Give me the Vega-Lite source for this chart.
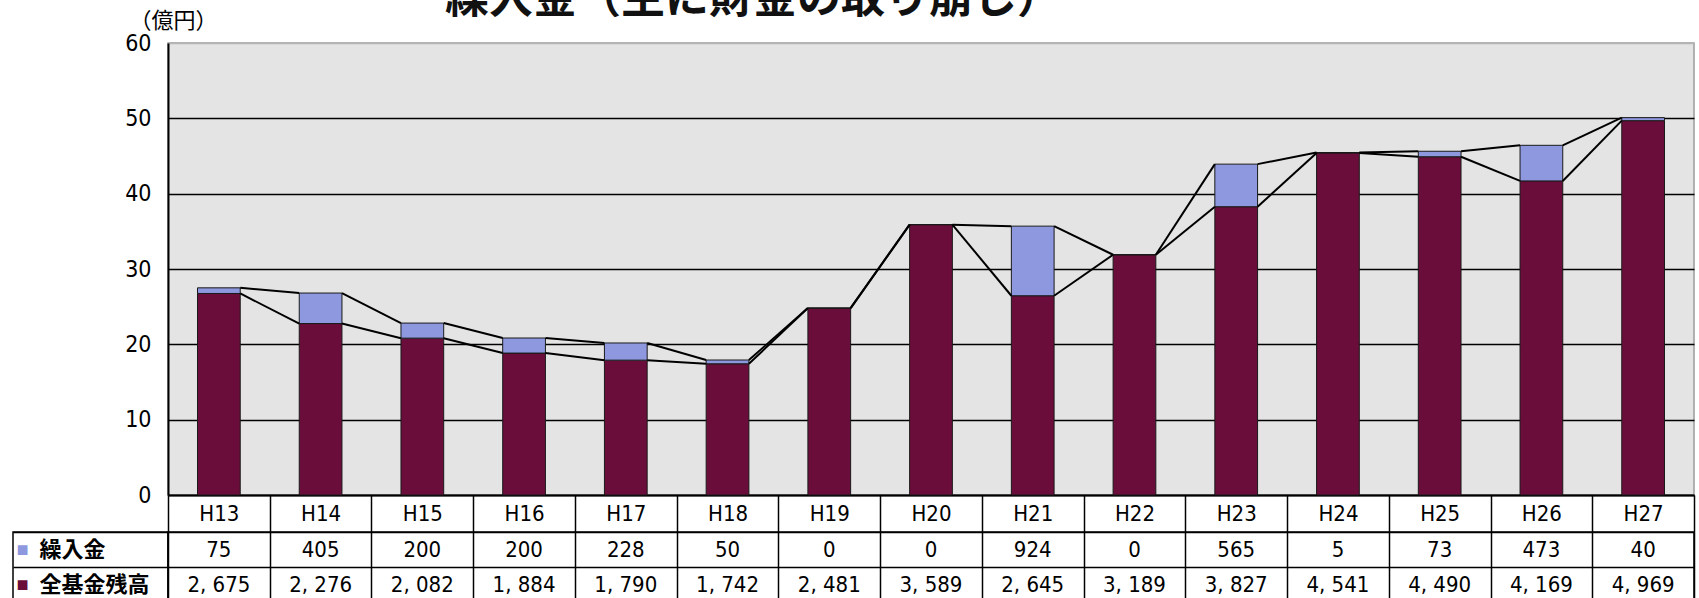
{
  "$schema": "https://vega.github.io/schema/vega-lite/v6.json",
  "padding": {"left": 12, "top": -22, "right": 4, "bottom": 0},
  "background": "white",
  "config": {
    "locale": {"number": {"decimal": ".", "thousands": ", ", "grouping": [3], "currency": ["", ""]}},
    "axis": {"labelFont": "Liberation Sans Narrow, DejaVu Sans Condensed, sans-serif", "labelColor": "black"}
  },
  "title": {"text": "繰入金（主に財金の取り崩し）", "font": "Noto Sans CJK JP", "fontSize": 44, "fontWeight": "bold", "anchor": "start", "frame": "group", "dx": 432, "dy": 8, "offset": -6, "color": "#111111"},
  "datasets": {
    "main": [
      {"年度": "H13", "繰入金": 75, "全基金残高": 2675},
      {"年度": "H14", "繰入金": 405, "全基金残高": 2276},
      {"年度": "H15", "繰入金": 200, "全基金残高": 2082},
      {"年度": "H16", "繰入金": 200, "全基金残高": 1884},
      {"年度": "H17", "繰入金": 228, "全基金残高": 1790},
      {"年度": "H18", "繰入金": 50, "全基金残高": 1742},
      {"年度": "H19", "繰入金": 0, "全基金残高": 2481},
      {"年度": "H20", "繰入金": 0, "全基金残高": 3589},
      {"年度": "H21", "繰入金": 924, "全基金残高": 2645},
      {"年度": "H22", "繰入金": 0, "全基金残高": 3189},
      {"年度": "H23", "繰入金": 565, "全基金残高": 3827},
      {"年度": "H24", "繰入金": 5, "全基金残高": 4541},
      {"年度": "H25", "繰入金": 73, "全基金残高": 4490},
      {"年度": "H26", "繰入金": 473, "全基金残高": 4169},
      {"年度": "H27", "繰入金": 40, "全基金残高": 4969}
    ]
  },
  "columns": 2,
  "spacing": {"row": 37, "column": 0},
  "bounds": "flush",
  "concat": [
    {
      "width": 155, "height": 452,
      "data": {"values": []},
      "mark": "point",
      "view": {"stroke": null}
    },
    {
      "width": 1526, "height": 452,
      "data": {"name": "main"},
      "view": {"fill": "#e4e4e4", "stroke": "#9a9a9a", "strokeWidth": 1.5},
      "transform": [
        {"fold": ["全基金残高", "繰入金"], "as": ["系列", "値"]},
        {"stack": "値", "groupby": ["年度"], "sort": [{"field": "系列", "order": "ascending"}], "as": ["v0", "v1"]}
      ],
      "layer": [
        {
          "mark": {"type": "bar", "width": {"band": 0.42}, "stroke": "#1a1a1a", "strokeWidth": 1},
          "encoding": {
            "x": {
              "field": "年度", "type": "nominal",
              "scale": {"paddingInner": 0, "paddingOuter": 0},
              "axis": {"title": null, "labelAngle": 0, "labelFontSize": 22, "tickBand": "extent", "tickSize": 37, "tickColor": "black", "tickWidth": 1.5, "domainColor": "black", "domainWidth": 2, "labelBaseline": "middle", "labelPadding": -19}
            },
            "y": {
              "field": "v0", "type": "quantitative",
              "scale": {"domain": [0, 6000], "nice": false},
              "axis": {
                "title": "（億円）", "titleAngle": 0, "titleFont": "Noto Sans CJK JP", "titleFontSize": 22, "titleFontWeight": "normal", "titleAlign": "center", "titleBaseline": "middle", "titleX": 5, "titleY": -23, "titleColor": "black",
                "values": [0, 1000, 2000, 3000, 4000, 5000, 6000],
                "labelExpr": "'' + (datum.value / 100)",
                "labelFontSize": 23, "labelPadding": 17, "ticks": false,
                "domainColor": "black", "domainWidth": 2,
                "grid": true,
                "gridColor": {"condition": {"test": "datum.value == 6000", "value": "#b5b5b5"}, "value": "black"},
                "gridWidth": 1.5
              }
            },
            "y2": {"field": "v1"},
            "color": {"field": "系列", "type": "nominal", "scale": {"domain": ["全基金残高", "繰入金"], "range": ["#6b0d3b", "#8d98df"]}, "legend": null}
          }
        },
        {
          "transform": [
            {"window": [{"op": "lead", "field": "v1", "as": "nv1"}, {"op": "lead", "field": "年度", "as": "nextYear"}], "groupby": ["系列"], "sort": [{"field": "年度", "order": "ascending"}]},
            {"filter": "datum.nextYear != null"}
          ],
          "mark": {"type": "rule", "color": "black", "strokeWidth": 2},
          "encoding": {
            "x": {"field": "年度", "type": "nominal", "bandPosition": 0.71},
            "x2": {"field": "nextYear", "bandPosition": 0.29},
            "y": {"field": "v1", "type": "quantitative"},
            "y2": {"field": "nv1"}
          }
        }
      ]
    },
    {
      "width": 155, "height": 70,
      "data": {"values": [{"系列": "繰入金"}, {"系列": "全基金残高"}]},
      "view": {"stroke": "black", "strokeWidth": 1.5, "fill": "white"},
      "encoding": {
        "y": {"field": "系列", "type": "nominal", "sort": ["繰入金", "全基金残高"], "scale": {"paddingInner": 0, "paddingOuter": 0},
          "axis": {"title": null, "labels": false, "ticks": false, "domain": false, "grid": true, "tickBand": "extent", "gridColor": "black", "gridWidth": 1.5}}
      },
      "layer": [
        {
          "mark": {"type": "text", "text": "■", "fontSize": 20, "dx": -68},
          "encoding": {"color": {"field": "系列", "type": "nominal", "scale": {"domain": ["全基金残高", "繰入金"], "range": ["#6b0d3b", "#8d98df"]}, "legend": null}}
        },
        {
          "mark": {"type": "text", "align": "left", "dx": -51, "font": "Noto Sans CJK JP", "fontSize": 22, "fontWeight": "bold", "color": "black"},
          "encoding": {"text": {"field": "系列"}}
        }
      ]
    },
    {
      "width": 1526, "height": 70,
      "data": {"name": "main"},
      "transform": [{"fold": ["繰入金", "全基金残高"], "as": ["系列", "値"]}],
      "view": {"stroke": "black", "strokeWidth": 1.5, "fill": "white"},
      "mark": {"type": "text", "fontSize": 22, "font": "Liberation Sans Narrow, DejaVu Sans Condensed, sans-serif", "color": "black"},
      "encoding": {
        "x": {"field": "年度", "type": "nominal", "scale": {"paddingInner": 0, "paddingOuter": 0},
          "axis": {"title": null, "labels": false, "ticks": false, "domain": false, "grid": true, "tickBand": "extent", "gridColor": "black", "gridWidth": 1.5}},
        "y": {"field": "系列", "type": "nominal", "sort": ["繰入金", "全基金残高"], "scale": {"paddingInner": 0, "paddingOuter": 0},
          "axis": {"title": null, "labels": false, "ticks": false, "domain": false, "grid": true, "tickBand": "extent", "gridColor": "black", "gridWidth": 1.5}},
        "text": {"field": "値", "type": "quantitative", "format": ","}
      }
    }
  ]
}
